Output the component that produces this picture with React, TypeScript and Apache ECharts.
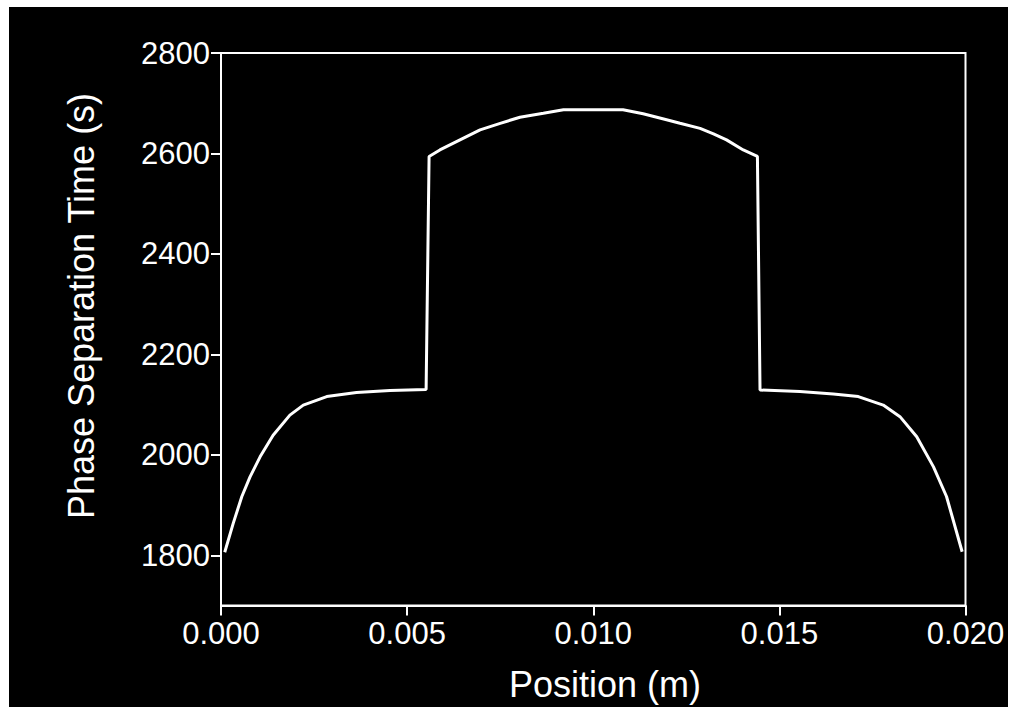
import React, { useEffect, useRef } from "react";
import * as echarts from "echarts";

const positions = [
  0.0001, 0.00033, 0.00056, 0.00078, 0.00105, 0.0014, 0.00185, 0.00221, 0.00284, 0.00364, 0.00454, 0.00551,
  0.00559, 0.00588, 0.00642, 0.00696, 0.0075, 0.00803, 0.00866, 0.0092, 0.0108, 0.01134, 0.01197, 0.01233,
  0.01287, 0.01323, 0.01358, 0.01403, 0.01441,
  0.01448, 0.01555, 0.01645, 0.01712, 0.01779, 0.01824, 0.01869, 0.01914, 0.01949, 0.01991,
];
const separationTimes = [
  1806, 1864, 1917, 1956, 1996, 2039, 2079, 2099, 2116, 2124, 2128, 2130,
  2594, 2607, 2627, 2647, 2660, 2672, 2680, 2687, 2687, 2679, 2667, 2660,
  2650, 2639, 2627, 2607, 2594,
  2129, 2126, 2121, 2116, 2099, 2076, 2036, 1976, 1917, 1807,
];
const yTicks = [1800, 2000, 2200, 2400, 2600, 2800];
const xTitle = "Position (m)";
const yTitle = "Phase Separation Time (s)";

const FONT = "'Liberation Sans', Arial, sans-serif";

export default function App() {
  const ref = useRef<HTMLDivElement>(null);
  useEffect(() => {
    if (!ref.current) return;
    const chart = echarts.init(ref.current, undefined, { renderer: "svg" });
    const data = positions.map((x, i) => [x, separationTimes[i]]);
    chart.setOption({
      animation: false,
      backgroundColor: "#000",
      grid: {
        left: 212,
        top: 46,
        width: 744.5,
        height: 552.5,
        show: true,
        borderColor: "#fff",
        borderWidth: 2,
        backgroundColor: "transparent",
      },
      xAxis: {
        type: "value",
        min: 0,
        max: 0.02,
        interval: 0.005,
        axisLine: { show: true, lineStyle: { color: "#fff", width: 2 } },
        axisTick: { show: true, inside: false, length: 10, lineStyle: { color: "#fff", width: 2 } },
        splitLine: { show: false },
        axisLabel: {
          color: "#fff",
          fontFamily: FONT,
          fontSize: 31,
          margin: 12,
          formatter: (v: number) => v.toFixed(3),
        },
      },
      yAxis: {
        type: "value",
        min: 1700,
        max: 2800,
        axisLine: { show: true, lineStyle: { color: "#fff", width: 2 } },
        axisTick: {
          show: true,
          inside: false,
          length: 10,
          customValues: yTicks,
          lineStyle: { color: "#fff", width: 2 },
        },
        splitLine: { show: false },
        axisLabel: {
          color: "#fff",
          fontFamily: FONT,
          fontSize: 31,
          margin: 11,
          customValues: yTicks,
          formatter: (v: number) => String(v),
        },
      },
      graphic: [
        {
          type: "text",
          x: 596,
          y: 677,
          style: {
            text: xTitle,
            fill: "#fff",
            font: `36px ${FONT}`,
            textAlign: "center",
            textVerticalAlign: "middle",
          },
        },
        {
          type: "text",
          x: 72,
          y: 299,
          rotation: Math.PI / 2,
          style: {
            text: yTitle,
            fill: "#fff",
            font: `36px ${FONT}`,
            textAlign: "center",
            textVerticalAlign: "middle",
          },
        },
      ],
      series: [
        {
          type: "line",
          data,
          showSymbol: false,
          symbol: "none",
          smooth: false,
          lineStyle: { color: "#fff", width: 3 },
        },
      ],
    });
    return () => chart.dispose();
  }, []);
  return (
    <div style={{ position: "fixed", left: 0, top: 0, width: 1013, height: 711, background: "#fff" }}>
      <div ref={ref} style={{ position: "absolute", left: 9, top: 7, width: 999, height: 700 }} />
    </div>
  );
}
